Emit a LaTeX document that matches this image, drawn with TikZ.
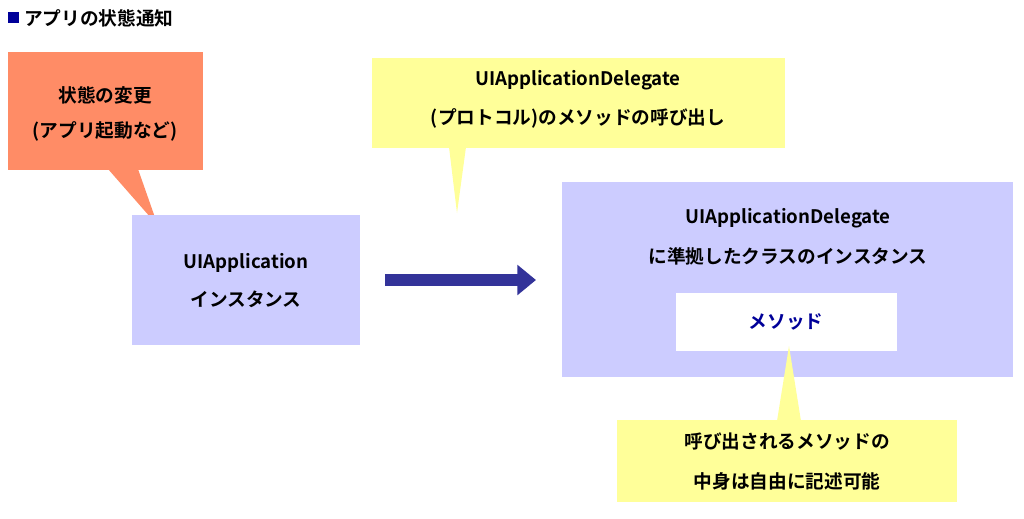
\documentclass[tikz,border=0pt]{standalone}
\usepackage{fontspec}
\setmainfont{Noto Sans CJK JP}[BoldFont={* Bold}]
\usetikzlibrary{arrows.meta}
\definecolor{lav}{HTML}{CCCCFF}
\definecolor{yel}{HTML}{FFFF99}
\definecolor{org}{HTML}{FF8C66}
\definecolor{navy}{HTML}{333399}
\definecolor{dnavy}{HTML}{000099}
\tikzset{txt/.style={font=\bfseries\fontsize{14}{16}\selectfont,align=center,inner sep=0},
box/.style={draw=none}}
\begin{document}
\begin{tikzpicture}[x=0.75pt,y=-0.75pt]
\useasboundingbox (0,0) rectangle (1024,518);
% title
\fill[dnavy] (8,12) rectangle (19,23);
\node[txt,anchor=west] (title) at (24,18) {アプリの状態通知};
% orange callout
\fill[org] (8,52) rectangle (203,170);
\fill[org] (108,169) -- (138,169) -- (158,226) -- cycle;
\node[txt] (o1) at (105,95) {状態の変更};
\node[txt] (o2) at (105,131) {(アプリ起動など)};
% UIApplication
\fill[lav] (132,215) rectangle (360,345);
\node[txt] (a1) at (246,263) {UIApplication};
\node[txt] (a2) at (246,299) {インスタンス};
% arrow
\coordinate (as) at (385,280);
\coordinate (ae) at (536,280);
\draw[navy,line width=9,-{Triangle[length=14pt,width=22pt]}] (as) -- (ae);
% top yellow
\fill[yel] (372,58) rectangle (785,148);
\fill[yel] (449,147) -- (466,147) -- (457,213) -- cycle;
\node[txt] (y1) at (578,80) {UIApplicationDelegate};
\node[txt] (y2) at (578,118) {(プロトコル)のメソッドの呼び出し};
% right box
\fill[lav] (562,182) rectangle (1013,377);
\node[txt] (r1) at (788,218) {UIApplicationDelegate};
\node[txt] (r2) at (788,256) {に準拠したクラスのインスタンス};
\fill[white] (676,293) rectangle (897,351);
\node[txt,text=dnavy] (m) at (786,322) {メソッド};
% bottom yellow
\fill[yel] (617,420) rectangle (957,502);
\fill[yel] (777,421) -- (801,421) -- (789,346) -- cycle;
\node[txt] (b1) at (787,442) {呼び出されるメソッドの};
\node[txt] (b2) at (787,481) {中身は自由に記述可能};
\end{tikzpicture}
\end{document}
